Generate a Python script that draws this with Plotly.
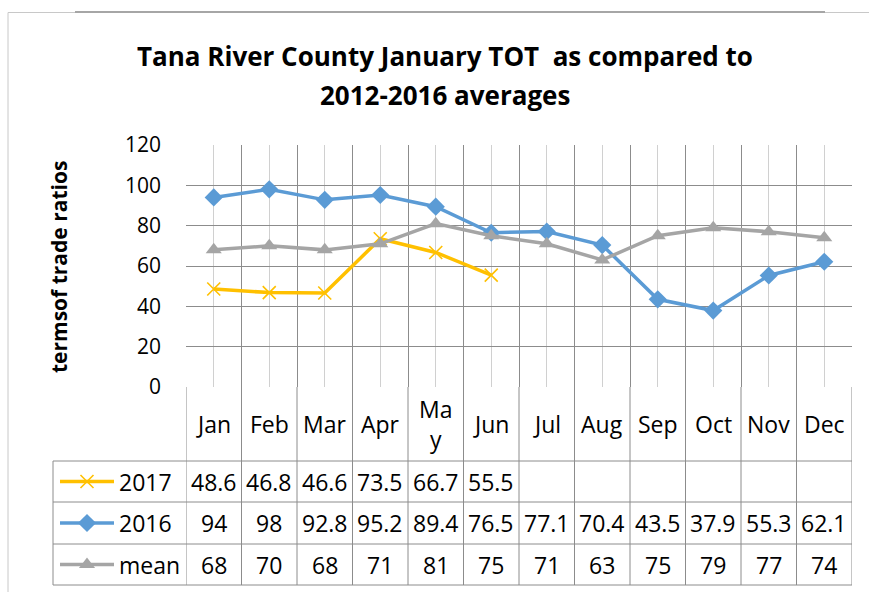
import plotly.graph_objects as go

months = ["Jan", "Feb", "Mar", "Apr", "May", "Jun", "Jul", "Aug", "Sep", "Oct", "Nov", "Dec"]
month_labels = ["Jan", "Feb", "Mar", "Apr", "Ma<br>y", "Jun", "Jul", "Aug", "Sep", "Oct", "Nov", "Dec"]
tot_2017 = [48.6, 46.8, 46.6, 73.5, 66.7, 55.5, None, None, None, None, None, None]
tot_2016 = [94, 98, 92.8, 95.2, 89.4, 76.5, 77.1, 70.4, 43.5, 37.9, 55.3, 62.1]
tot_mean = [68, 70, 68, 71, 81, 75, 71, 63, 75, 79, 77, 74]
title_lines = ["Tana River County January TOT  as compared to", "2012-2016 averages"]

W, H = 869, 592
FONT = "Open Sans"

def fx(px):
    return px / W

def fy(py):
    return 1 - py / H

# plot area in pixels
L, R, T, B = 186, 852, 145, 387
row_tops = [387, 461, 502, 544, 585]
leg_left = 53

series = [
    ("2017", tot_2017, "#FFC000", dict(symbol="x-thin", size=13, line=dict(width=1.6, color="#FFC000"))),
    ("2016", tot_2016, "#5B9BD5", dict(symbol="diamond", size=14, color="#5B9BD5")),
    ("mean", tot_mean, "#A5A5A5", dict(symbol="triangle-up", size=14, color="#A5A5A5")),
]

xs = [i + 0.5 for i in range(len(months))]

fig = go.Figure()
for name, vals, color, marker in series:
    fig.add_trace(go.Scatter(x=xs, y=vals, mode="lines+markers", name=name,
                             line=dict(color=color, width=3.5), marker=marker,
                             connectgaps=False, showlegend=False, cliponaxis=False))

# legend samples in the data table (pixel axes)
for k, (name, vals, color, marker) in enumerate(series):
    yc = (row_tops[k + 1] + row_tops[k + 2]) / 2
    fig.add_trace(go.Scatter(x=[60, 114], y=[yc, yc], mode="lines", line=dict(color=color, width=3.5),
                             xaxis="x2", yaxis="y2", showlegend=False, hoverinfo="skip"))
    fig.add_trace(go.Scatter(x=[87], y=[yc], mode="markers", marker=marker,
                             xaxis="x2", yaxis="y2", showlegend=False, hoverinfo="skip"))

shapes = []
grid_dark = "#8c8c8c"
# category boundaries running through the table
for i in range(len(months) + 1):
    shapes.append(dict(type="line", xref="x", yref="paper", x0=i, x1=i, y0=fy(B), y1=fy(row_tops[-1]),
                       line=dict(color=grid_dark, width=1)))
for yy in row_tops[1:]:
    shapes.append(dict(type="line", xref="paper", yref="paper", x0=fx(leg_left), x1=fx(R),
                       y0=fy(yy), y1=fy(yy), line=dict(color=grid_dark, width=1)))
shapes.append(dict(type="line", xref="paper", yref="paper", x0=fx(leg_left), x1=fx(leg_left),
                   y0=fy(row_tops[1]), y1=fy(row_tops[-1]), line=dict(color=grid_dark, width=1)))
# outer frame
shapes.append(dict(type="line", xref="paper", yref="paper", x0=fx(8), x1=1, y0=fy(12.5), y1=fy(12.5),
                   line=dict(color="#c8c8c8", width=1)))
shapes.append(dict(type="line", xref="paper", yref="paper", x0=fx(75), x1=fx(825), y0=fy(12), y1=fy(12),
                   line=dict(color="#a6a6a6", width=2)))
shapes.append(dict(type="line", xref="paper", yref="paper", x0=fx(8), x1=fx(8), y0=fy(12.5), y1=0,
                   line=dict(color="#c8c8c8", width=1)))

annotations = []
hdr_y = (row_tops[0] + row_tops[1]) / 2
for x, lab in zip(xs, month_labels):
    annotations.append(dict(x=x, y=fy(hdr_y), xref="x", yref="paper", text=lab, showarrow=False,
                            font=dict(family=FONT, size=23, color="#000"), xanchor="center", yanchor="middle"))
for k, (name, vals, color, marker) in enumerate(series):
    yc = (row_tops[k + 1] + row_tops[k + 2]) / 2
    annotations.append(dict(x=fx(117), y=fy(yc), xref="paper", yref="paper", text=name, showarrow=False,
                            font=dict(family=FONT, size=23, color="#000"), xanchor="left", yanchor="middle"))
    for x, v in zip(xs, vals):
        if v is None:
            continue
        annotations.append(dict(x=x, y=fy(yc), xref="x", yref="paper", text=f"{v:g}", showarrow=False,
                                font=dict(family=FONT, size=23, color="#000"), xanchor="center", yanchor="middle"))
annotations.append(dict(x=fx(59), y=fy(267), xref="paper", yref="paper", text="<b>termsof trade ratios</b>",
                        textangle=-90, showarrow=False, font=dict(family=FONT, size=21, color="#000"),
                        xanchor="center", yanchor="middle"))
# two-line title, Excel spaces its lines widely
for line, yc in zip(title_lines, [56, 95]):
    annotations.append(dict(x=fx(445), y=fy(yc), xref="paper", yref="paper", text=f"<b>{line}</b>",
                            showarrow=False, font=dict(family=FONT, size=26, color="#000"),
                            xanchor="center", yanchor="middle"))

fig.update_layout(
    width=W, height=H,
    margin=dict(l=0, r=0, t=0, b=0, autoexpand=False),
    paper_bgcolor="white", plot_bgcolor="rgba(0,0,0,0)",
    xaxis=dict(domain=[fx(L), fx(R)], range=[0, 12], tickvals=list(range(13)), showticklabels=False,
               showgrid=True, gridcolor=grid_dark, gridwidth=1, zeroline=False, showline=False, ticks="",
               automargin=False,
               minor=dict(tickvals=xs, showgrid=True, gridcolor="#d0d0d0", gridwidth=1)),
    yaxis=dict(domain=[fy(B), fy(T)], range=[0, 120], tickvals=list(range(0, 121, 20)),
               showgrid=True, gridcolor=grid_dark, gridwidth=1, zeroline=False, showline=False, ticks="",
               automargin=False,
               ticklabelstandoff=24, tickfont=dict(family=FONT, size=21, color="#000")),
    xaxis2=dict(domain=[0, 1], range=[0, W], visible=False, anchor="y2", automargin=False),
    yaxis2=dict(domain=[0, 1], range=[H, 0], visible=False, anchor="x2", automargin=False),
    shapes=shapes,
    annotations=annotations,
)

fig.write_html("out.html", config={"displayModeBar": False},
               post_script="document.body.style.margin='0';")
